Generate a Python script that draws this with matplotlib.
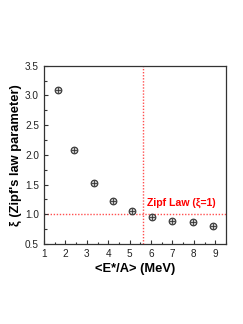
import numpy as np
import matplotlib.pyplot as plt
from matplotlib.ticker import MultipleLocator

plt.rcParams["font.family"] = ["Liberation Sans", "DejaVu Sans"]

E_PER_A = [1.65, 2.40, 3.32, 4.21, 5.10, 6.05, 7.00, 7.96, 8.91]
XI = [3.09, 2.09, 1.52, 1.22, 1.05, 0.96, 0.89, 0.87, 0.81]
ZIPF_XI = 1.0
E_CROSS = 5.61

fig = plt.figure(figsize=(2.43, 3.24), dpi=100)
ax = fig.add_axes([0.181, 0.247, 0.749, 0.55])

ax.axhline(ZIPF_XI, color="#ff5050", linestyle=(0, (1, 1.2)), linewidth=1.0, zorder=1)
ax.axvline(E_CROSS, color="#ff5050", linestyle=(0, (1, 1.2)), linewidth=1.0, zorder=1)

ax.plot(E_PER_A, XI, linestyle="none", marker="o", markersize=4.8,
        markerfacecolor="#c8c8c8", markeredgecolor="#333333", markeredgewidth=0.8, zorder=3)
ax.plot(E_PER_A, XI, linestyle="none", marker="+", markersize=4.8,
        markeredgecolor="#333333", markeredgewidth=0.6, zorder=4)

ax.text(5.8, 1.1, "Zipf Law (ξ=1)", color="red", fontsize=7.6, fontweight="bold",
        ha="left", va="bottom")

ax.set_xlim(1, 9.5)
ax.set_ylim(0.5, 3.5)
ax.xaxis.set_major_locator(MultipleLocator(1))
ax.xaxis.set_minor_locator(MultipleLocator(0.5))
ax.yaxis.set_major_locator(MultipleLocator(0.5))
ax.yaxis.set_minor_locator(MultipleLocator(0.25))
ax.yaxis.set_major_formatter(plt.FuncFormatter(lambda v, p: f"{v:.1f}"))
ax.tick_params(which="both", direction="in", top=False, right=False, labelsize=7.2,
               width=0.8, colors="#333333", labelcolor="#222222")
ax.tick_params(which="major", length=3)
ax.tick_params(which="minor", length=1.8)
for s in ax.spines.values():
    s.set_linewidth(0.9)
    s.set_color("#333333")

ax.set_xlabel("<E*/A> (MeV)", fontsize=9.3, fontweight="bold", labelpad=3)
ax.set_ylabel("ξ (Zipf's law parameter)", fontsize=9.3, fontweight="bold", labelpad=2)

fig.savefig("out.png", dpi=100)
